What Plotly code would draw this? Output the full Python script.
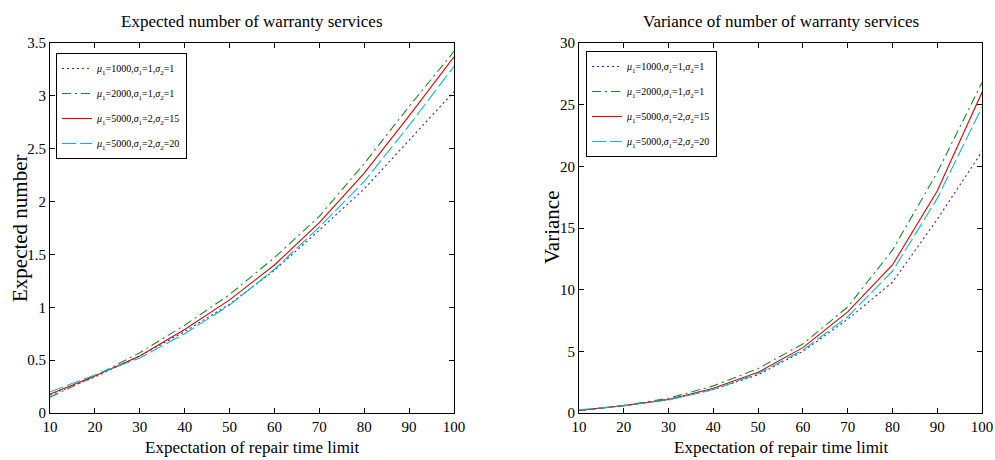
import plotly.graph_objects as go

x_vals = [10, 20, 30, 40, 50, 60, 70, 80, 90, 100]

labels = [
    "<i>μ</i><sub>1</sub>=1000,<i>σ</i><sub>1</sub>=1,<i>σ</i><sub>2</sub>=1",
    "<i>μ</i><sub>1</sub>=2000,<i>σ</i><sub>1</sub>=1,<i>σ</i><sub>2</sub>=1",
    "<i>μ</i><sub>1</sub>=5000,<i>σ</i><sub>1</sub>=2,<i>σ</i><sub>2</sub>=15",
    "<i>μ</i><sub>1</sub>=5000,<i>σ</i><sub>1</sub>=2,<i>σ</i><sub>2</sub>=20",
]

# Expected number of warranty services
exp_1000_1_1 = [0.17, 0.34, 0.54, 0.77, 1.03, 1.35, 1.73, 2.12, 2.58, 3.04]
exp_2000_1_1 = [0.15, 0.35, 0.57, 0.83, 1.12, 1.47, 1.86, 2.36, 2.90, 3.42]
exp_5000_2_15 = [0.18, 0.35, 0.54, 0.79, 1.07, 1.40, 1.80, 2.27, 2.81, 3.37]
exp_5000_2_20 = [0.20, 0.36, 0.52, 0.75, 1.02, 1.36, 1.76, 2.19, 2.72, 3.28]

# Variance of number of warranty services
var_1000_1_1 = [0.20, 0.60, 1.10, 1.90, 3.10, 5.00, 7.60, 10.60, 15.70, 21.20]
var_2000_1_1 = [0.20, 0.60, 1.20, 2.20, 3.60, 5.60, 8.60, 13.20, 19.50, 26.80]
var_5000_2_15 = [0.20, 0.60, 1.10, 2.00, 3.30, 5.30, 8.20, 12.00, 18.00, 26.00]
var_5000_2_20 = [0.25, 0.60, 1.05, 1.90, 3.20, 5.10, 7.80, 11.50, 17.40, 24.80]

x_ticks = [10, 20, 30, 40, 50, 60, 70, 80, 90, 100]
y1_ticks = [0, 0.5, 1, 1.5, 2, 2.5, 3, 3.5]
y1_ticktext = ["0", "0.5", "1", "1.5", "2", "2.5", "3", "3.5"]
y2_ticks = [0, 5, 10, 15, 20, 25, 30]

styles = [
    dict(color="rgb(40,40,230)", dash="2px,3px"),
    dict(color="rgb(20,140,40)", dash="9px,4px,2px,4px"),
    dict(color="rgb(235,0,0)", dash="solid"),
    dict(color="rgb(0,190,200)", dash="14px,4px"),
]

FONT = "Liberation Serif"

fig = go.Figure()

left_series = [exp_1000_1_1, exp_2000_1_1, exp_5000_2_15, exp_5000_2_20]
right_series = [var_1000_1_1, var_2000_1_1, var_5000_2_15, var_5000_2_20]

for i, (ys, st) in enumerate(zip(left_series, styles)):
    fig.add_trace(go.Scatter(
        x=x_vals, y=ys, mode="lines", name=labels[i],
        line=dict(color=st["color"], dash=st["dash"], width=1.1),
        xaxis="x", yaxis="y", legend="legend", legendgroup="L%d" % i,
    ))
for i, (ys, st) in enumerate(zip(right_series, styles)):
    fig.add_trace(go.Scatter(
        x=x_vals, y=ys, mode="lines", name=labels[i],
        line=dict(color=st["color"], dash=st["dash"], width=1.1),
        xaxis="x2", yaxis="y2", legend="legend2", legendgroup="R%d" % i,
    ))

W, H = 995, 460
ML, MR, MT, MB = 50, 13, 43, 47
PW = W - ML - MR
PH = H - MT - MB

def px_x(p):
    return (p - ML) / PW

def px_y(p):
    return 1 - (p - MT) / PH

axis_common = dict(
    showline=True, linecolor="black", linewidth=1, mirror="allticks",
    ticks="inside", ticklen=5, tickcolor="black", tickwidth=1,
    showgrid=False, zeroline=False, automargin=False,
    tickfont=dict(family=FONT, size=15, color="black"),
)

legend_common = dict(
    bgcolor="white", bordercolor="black", borderwidth=1,
    font=dict(family=FONT, size=10, color="black"),
    xanchor="left", yanchor="top", tracegroupgap=6,
    itemwidth=30,
)

fig.update_layout(
    width=W, height=H, autosize=False,
    margin=dict(l=ML, r=MR, t=MT, b=MB, autoexpand=False),
    paper_bgcolor="white", plot_bgcolor="white",
    showlegend=True,
    xaxis=dict(domain=[0, px_x(454)], range=[10, 100], tickvals=x_ticks,
               anchor="y", **axis_common),
    yaxis=dict(domain=[0, 1], range=[0, 3.5], tickvals=y1_ticks,
               ticktext=y1_ticktext, anchor="x", **axis_common),
    xaxis2=dict(domain=[px_x(579), 1], range=[10, 100], tickvals=x_ticks,
                anchor="y2", **axis_common),
    yaxis2=dict(domain=[0, 1], range=[0, 30], tickvals=y2_ticks,
                anchor="x2", **axis_common),
    legend=dict(x=px_x(56), y=px_y(53), **legend_common),
    legend2=dict(x=px_x(586), y=px_y(51), **legend_common),
    annotations=[
        dict(text="Expected number of warranty services", xref="paper", yref="paper",
             x=px_x(252), y=px_y(22), xanchor="center", yanchor="middle",
             showarrow=False, font=dict(family=FONT, size=17, color="black")),
        dict(text="Variance of number of warranty services", xref="paper", yref="paper",
             x=px_x(781), y=px_y(22), xanchor="center", yanchor="middle",
             showarrow=False, font=dict(family=FONT, size=17, color="black")),
        dict(text="Expectation of repair time limit", xref="paper", yref="paper",
             x=px_x(252), y=px_y(447), xanchor="center", yanchor="middle",
             showarrow=False, font=dict(family=FONT, size=17, color="black")),
        dict(text="Expectation of repair time limit", xref="paper", yref="paper",
             x=px_x(781), y=px_y(447), xanchor="center", yanchor="middle",
             showarrow=False, font=dict(family=FONT, size=17, color="black")),
        dict(text="Expected number", xref="paper", yref="paper",
             x=px_x(20), y=px_y(228), xanchor="center", yanchor="middle", textangle=-90,
             showarrow=False, font=dict(family=FONT, size=21, color="black")),
        dict(text="Variance", xref="paper", yref="paper",
             x=px_x(552), y=px_y(228), xanchor="center", yanchor="middle", textangle=-90,
             showarrow=False, font=dict(family=FONT, size=21, color="black")),
    ],
)

fig.write_html(
    "out.html",
    config={"displayModeBar": False, "responsive": False},
    post_script="document.body.style.margin='0';document.body.style.overflow='hidden';",
)
